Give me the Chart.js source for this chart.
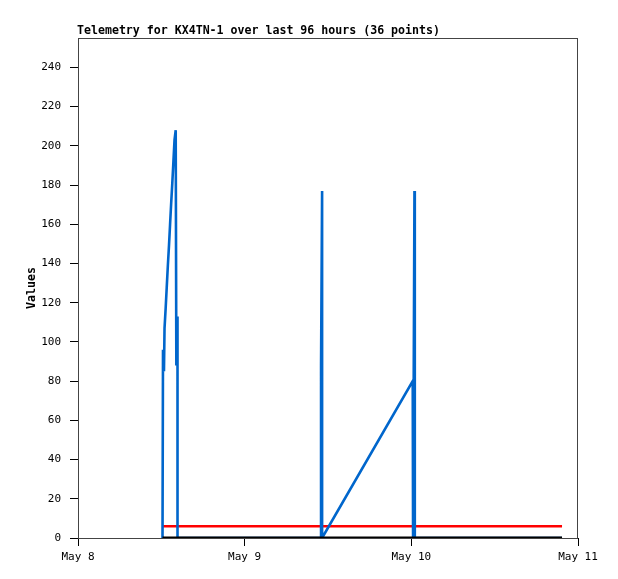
<!DOCTYPE html>
<html>
<head>
<meta charset="utf-8">
<script src="https://cdn.jsdelivr.net/npm/chart.js@4/dist/chart.umd.min.js"></script>
<style>
  body { margin: 0; background: #fff; }
  canvas { display: block; }
</style>
</head>
<body>
<canvas id="telemetry-chart" width="618" height="579"></canvas>
<script>
// Chart data (x in hours since May 8 00:00)
const chartTitle = 'Telemetry for KX4TN-1 over last 96 hours (36 points)';
const dayLabels = ['May 8', 'May 9', 'May 10', 'May 11'];
const dayHours = [0, 24, 48, 72];
const yTicks = [0, 20, 40, 60, 80, 100, 120, 140, 160, 180, 200, 220, 240];

// Blue channel
const blueHours = [12.17, 12.24, 12.38, 12.46, 12.62, 12.78, 12.94, 13.10, 13.26, 13.42, 13.58, 13.74, 13.90, 14.07,
  14.16, 14.33, 14.33, 35.0, 35.0, 35.15, 35.15, 48.2, 48.25, 48.45, 48.5, 69.7];
const blueValues = [0, 96, 85, 107, 117, 128, 139, 149, 160, 171, 181, 192, 203, 208,
  88, 113, 0, 0, 88, 177, 0, 80, 0, 177, 0, 0];

// Red channel
const redHours = [12.1, 69.7];
const redValues = [6, 6];

// Black channel
const blackHours = [12.17, 69.7];
const blackValues = [0, 0];

const FONT = "'DejaVu Sans Mono', monospace";

const toPoints = (xs, ys) => xs.map((x, i) => ({ x: x, y: ys[i] }));

// Title drawn flush with the plot's left edge
const titlePlugin = {
  id: 'plotTitle',
  afterDraw: (chart) => {
    const ctx = chart.ctx;
    ctx.save();
    ctx.font = `bold 11.6px ${FONT}`;
    ctx.fillStyle = '#000';
    ctx.textAlign = 'left';
    ctx.textBaseline = 'middle';
    ctx.fillText(chartTitle, chart.chartArea.left - 1, 31);
    ctx.restore();
  }
};

// Frame around the plot area
const framePlugin = {
  id: 'plotFrame',
  beforeDatasetsDraw: (chart) => {
    const { left, top, right, bottom } = chart.chartArea;
    const ctx = chart.ctx;
    ctx.save();
    ctx.strokeStyle = '#444';
    ctx.lineWidth = 1;
    ctx.strokeRect(left + 0.5, top + 0.5, right - left - 1, bottom - top);
    ctx.restore();
  }
};

const lineStyle = (color, width, order) => ({
  borderColor: color,
  backgroundColor: color,
  borderWidth: width,
  pointRadius: 0,
  tension: 0,
  fill: false,
  order: order
});

new Chart(document.getElementById('telemetry-chart'), {
  type: 'line',
  data: {
    datasets: [
      // black drawn last so it covers the blue baseline
      { label: 'Black', data: toPoints(blackHours, blackValues), ...lineStyle('#000000', 3, 0) },
      { label: 'Red', data: toPoints(redHours, redValues), ...lineStyle('#ff0000', 2.5, 2) },
      { label: 'Blue', data: toPoints(blueHours, blueValues), ...lineStyle('#0066cc', 2.6, 1) }
    ]
  },
  options: {
    responsive: false,
    animation: false,
    layout: { padding: { top: 38, right: 40, left: 0, bottom: 0 } },
    plugins: {
      legend: { display: false },
      tooltip: { enabled: false }
    },
    scales: {
      x: {
        type: 'linear',
        min: dayHours[0],
        max: dayHours[dayHours.length - 1],
        afterFit: (scale) => { scale.height = 41; },
        afterBuildTicks: (scale) => { scale.ticks = dayHours.map(v => ({ value: v })); },
        grid: { drawOnChartArea: false, tickLength: 8, color: '#000' },
        border: { color: '#000', width: 1 },
        ticks: {
          color: '#000',
          font: { family: FONT, size: 11 },
          padding: 5,
          maxRotation: 0,
          callback: (v) => dayLabels[dayHours.indexOf(v)]
        }
      },
      y: {
        min: 0,
        max: 255,
        afterFit: (scale) => { scale.width = 78; },
        afterBuildTicks: (scale) => { scale.ticks = yTicks.map(v => ({ value: v })); },
        grid: { drawOnChartArea: false, tickLength: 8, color: '#000' },
        border: { color: '#000', width: 1 },
        ticks: {
          color: '#000',
          font: { family: FONT, size: 11 },
          padding: 9
        },
        title: {
          display: true,
          text: 'Values',
          color: '#000',
          font: { family: FONT, size: 11.6, weight: 'bold' },
          padding: { top: 25, bottom: 0 }
        }
      }
    }
  },
  plugins: [framePlugin, titlePlugin]
});
</script>
</body>
</html>
